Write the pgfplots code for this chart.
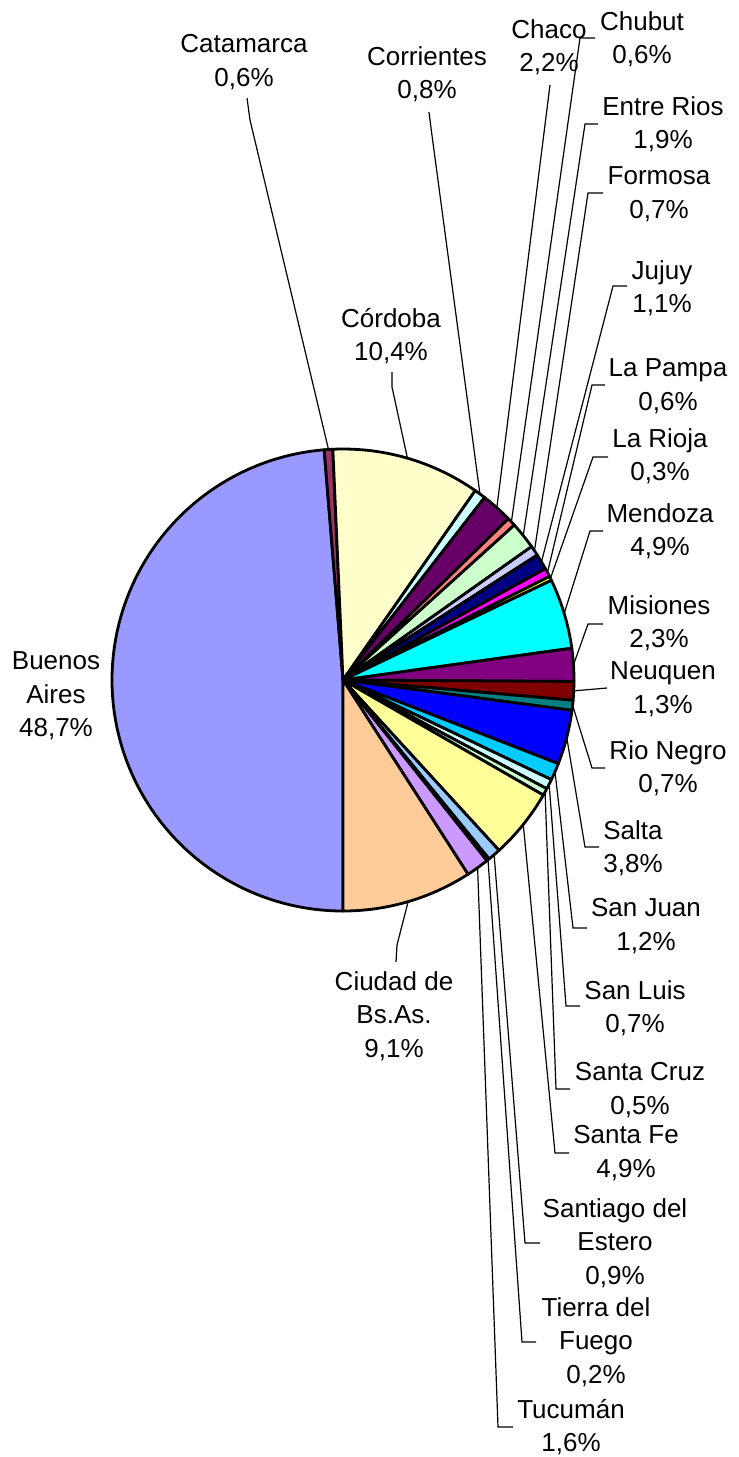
\documentclass[border=0pt]{standalone}
\usepackage{pgfplots}
\pgfplotsset{compat=1.18}
\usepackage{fontspec}
\setmainfont{Liberation Sans}
\definecolor{c1}{HTML}{9999FF}
\definecolor{c2}{HTML}{993366}
\definecolor{c3}{HTML}{FFFFCC}
\definecolor{c4}{HTML}{CCFFFF}
\definecolor{c5}{HTML}{660066}
\definecolor{c6}{HTML}{FF8080}
\definecolor{c7}{HTML}{CCFFCC}
\definecolor{c8}{HTML}{CCCCFF}
\definecolor{c9}{HTML}{000080}
\definecolor{c10}{HTML}{FF00FF}
\definecolor{c11}{HTML}{FFFF00}
\definecolor{c12}{HTML}{00FFFF}
\definecolor{c13}{HTML}{800080}
\definecolor{c14}{HTML}{800000}
\definecolor{c15}{HTML}{008080}
\definecolor{c16}{HTML}{0000FF}
\definecolor{c17}{HTML}{00CCFF}
\definecolor{c18}{HTML}{CCFFFF}
\definecolor{c19}{HTML}{CCFFCC}
\definecolor{c20}{HTML}{FFFF99}
\definecolor{c21}{HTML}{99CCFF}
\definecolor{c22}{HTML}{FF99CC}
\definecolor{c23}{HTML}{CC99FF}
\definecolor{c24}{HTML}{FFCC99}
\newcommand\cum{0}
\newcommand\slice[2]{%
 \pgfmathsetmacro\sa{180+3.6*\cum}%
 \pgfmathsetmacro\sb{180+3.6*(\cum+#1)}%
 \pgfmathsetmacro\sm{(\sa+\sb)/2}%
 \pgfmathsetmacro\rx{343+231*sin(\sm)}%
 \pgfmathsetmacro\ry{680-231*cos(\sm)}%
 \pgfmathtruncatemacro\ns{max(3,\sb-\sa)+1}%
 \pgfmathsetmacro\nc{\cum+#1}\global\let\cum\nc
 \edef\tmp{\noexpand\addplot[fill=#2,draw=black,line width=1.4bp,line join=round,no markers,domain=\sa:\sb,samples=\ns] ({343+231*sin(x)},{680-231*cos(x)}) -- (343,680) -- cycle;}%
 \tmp}
\newcommand\lead[1]{\edef\tmp{\noexpand\addplot[black,line width=0.6bp,no markers] coordinates {(\rx,\ry) #1};}\tmp}
\newcommand\lab[3]{\node[align=center,inner sep=0pt,font=\fontsize{13bp}{16.75bp}\selectfont] at (axis cs:#1,#2) {#3};}
\begin{document}
\begin{tikzpicture}
\begin{axis}[hide axis, scale only axis, width=369.5bp, height=728.5bp,
  xmin=0, xmax=739, ymin=0, ymax=1457, y dir=reverse, clip=false]
\slice{48.7}{c1}\lab{56}{696}{Buenos\\Aires\\48,7\%}
\slice{0.6}{c2}\lead{(250,120) (247,98)}\lab{244}{62}{Catamarca\\0,6\%}
\slice{10.4}{c3}\lead{(392,387) (392,372)}\lab{391}{336}{Córdoba\\10,4\%}
\slice{0.8}{c4}\lead{(431,128) (429,112)}\lab{427}{74}{Corrientes\\0,8\%}
\slice{2.2}{c5}\lead{(550,85)}\lab{549}{47}{Chaco\\2,2\%}
\slice{0.6}{c6}\lead{(580,38) (595,38)}\lab{642}{39}{Chubut\\0,6\%}
\slice{1.9}{c7}\lead{(585,124) (598,124)}\lab{663}{124}{Entre Rios\\1,9\%}
\slice{0.7}{c8}\lead{(588,193) (603,193)}\lab{659}{194}{Formosa\\0,7\%}
\slice{1.1}{c9}\lead{(613,286) (627,286)}\lab{662}{288}{Jujuy\\1,1\%}
\slice{0.6}{c10}\lead{(592,385) (605,385)}\lab{668}{386}{La Pampa\\0,6\%}
\slice{0.3}{c11}\lead{(593,457) (608,457)}\lab{660}{456}{La Rioja\\0,3\%}
\slice{4.9}{c12}\lead{(590,531) (603,531)}\lab{660}{531}{Mendoza\\4,9\%}
\slice{2.3}{c13}\lead{(588,624) (603,624)}\lab{659}{623}{Misiones\\2,3\%}
\slice{1.3}{c14}\lead{(607,688)}\lab{663}{689}{Neuquen\\1,3\%}
\slice{0.7}{c15}\lead{(592,768) (605,768)}\lab{668}{768}{Rio Negro\\0,7\%}
\slice{3.8}{c16}\lead{(585,847) (599,847)}\lab{633}{848}{Salta\\3,8\%}
\slice{1.2}{c17}\lead{(573,928) (587,928)}\lab{646}{926}{San Juan\\1,2\%}
\slice{0.7}{c18}\lead{(566,1006) (580,1006)}\lab{635}{1008}{San Luis\\0,7\%}
\slice{0.5}{c19}\lead{(556,1089) (570,1089)}\lab{640}{1090}{Santa Cruz\\0,5\%}
\slice{4.9}{c20}\lead{(555,1153) (569,1153)}\lab{626}{1153}{Santa Fe\\4,9\%}
\slice{0.9}{c21}\lead{(525,1243) (540,1243)}\lab{615}{1243}{Santiago del\\Estero\\0,9\%}
\slice{0.2}{c22}\lead{(522,1342) (536,1342)}\lab{596}{1342}{Tierra del\\Fuego\\0,2\%}
\slice{1.6}{c23}\lead{(498,1427) (513,1427)}\lab{571}{1427}{Tucumán\\1,6\%}
\slice{9.1}{c24}\lead{(397,945) (396,962)}\lab{394}{1016}{Ciudad de\\Bs.As.\\9,1\%}
\end{axis}
\pgfresetboundingbox
\path (current axis.south west) rectangle (current axis.north east);
\end{tikzpicture}
\end{document}
